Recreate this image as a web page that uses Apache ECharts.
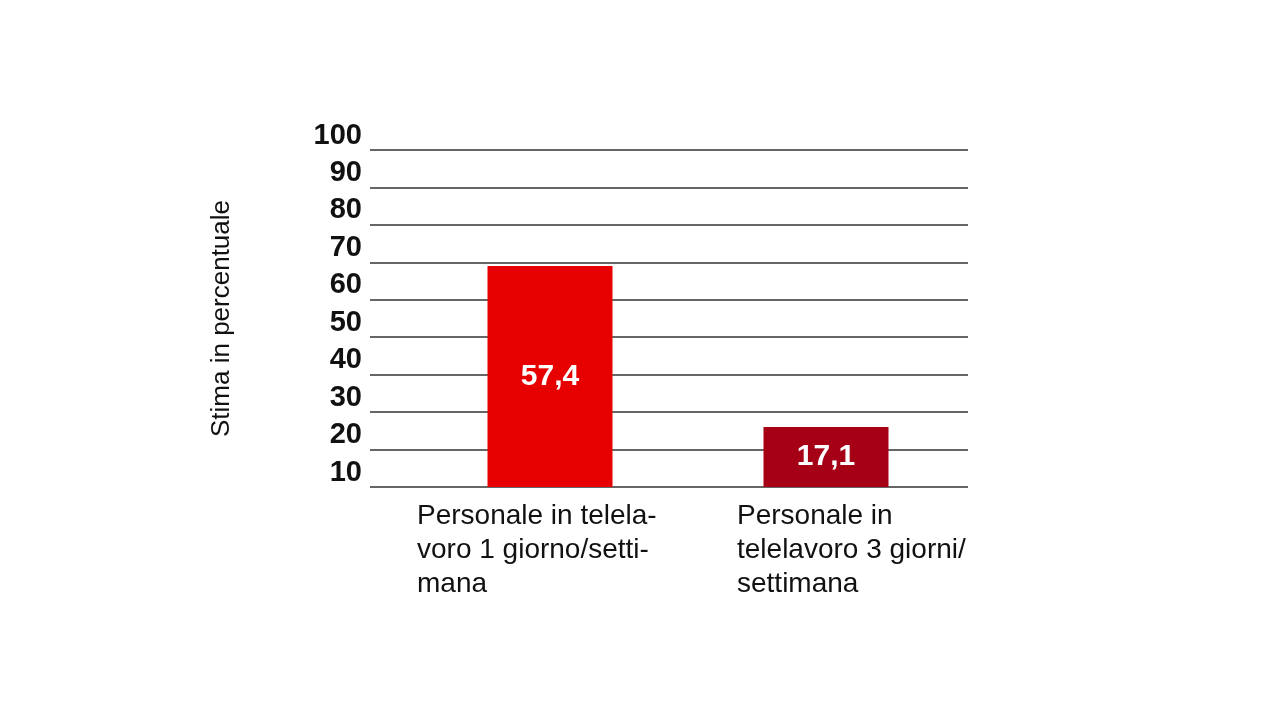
<!DOCTYPE html>
<html><head><meta charset="utf-8">
<script src="https://cdn.jsdelivr.net/npm/echarts@6/dist/echarts.min.js"></script>
<style>html,body{margin:0;background:#fff}#c{width:1280px;height:720px}</style>
</head><body><div id="c"></div>
<script>
const categories = ['Personale in telela-\nvoro 1 giorno/setti-\nmana', 'Personale in\ntelelavoro 3 giorni/\nsettimana'];
const barHeights = [69, 26];
const valueLabels = ['57,4', '17,1'];
const barColors = ['#e60000', '#a50016'];
const yTicks = [10, 20, 30, 40, 50, 60, 70, 80, 90, 100];

const chart = echarts.init(document.getElementById('c'));
chart.setOption({
  animation: false,
  grid: [
    {left: 370, right: 312, top: 150, bottom: 233},
    {left: 412, right: 316, top: 150, bottom: 233},
    {left: 417, right: 543, top: 150, bottom: 233}
  ],
  xAxis: [
    {gridIndex: 0, type: 'category', data: ['a','b'], show: false},
    {gridIndex: 1, type: 'category', data: ['a','b'], show: false},
    {gridIndex: 2, type: 'category', data: categories, boundaryGap: false,
     axisLine: {show: false}, axisTick: {show: false},
     axisLabel: {align: 'left', verticalAlign: 'top', margin: 12, fontFamily: 'Liberation Sans',
       fontSize: 28, lineHeight: 34, color: '#111'}}
  ],
  yAxis: [
    {gridIndex: 0, type: 'value', min: 10, max: 100, interval: 10,
     name: 'Stima in percentuale', nameLocation: 'middle', nameRotate: 90, nameGap: 135,
     nameTextStyle: {fontFamily: 'Liberation Sans', fontSize: 26, color: '#111'},
     axisLine: {show: false}, axisTick: {show: false},
     axisLabel: {fontFamily: 'Liberation Sans', fontWeight: 'bold', fontSize: 29, color: '#111',
       margin: 8, verticalAlign: 'bottom', formatter: v => yTicks.includes(v) ? String(v) : ''},
     splitLine: {lineStyle: {color: '#333', width: 1.5}}},
    {gridIndex: 1, type: 'value', min: 10, max: 100, show: false},
    {gridIndex: 2, type: 'value', min: 10, max: 100, show: false}
  ],
  series: [{
    type: 'bar', xAxisIndex: 1, yAxisIndex: 1, barWidth: 125,
    data: barHeights.map((v, i) => ({value: v, itemStyle: {color: barColors[i]}})),
    label: {show: true, position: 'inside', color: '#fff', fontFamily: 'Liberation Sans',
      fontWeight: 'bold', fontSize: 30, formatter: p => valueLabels[p.dataIndex]}
  }]
});
</script></body></html>
